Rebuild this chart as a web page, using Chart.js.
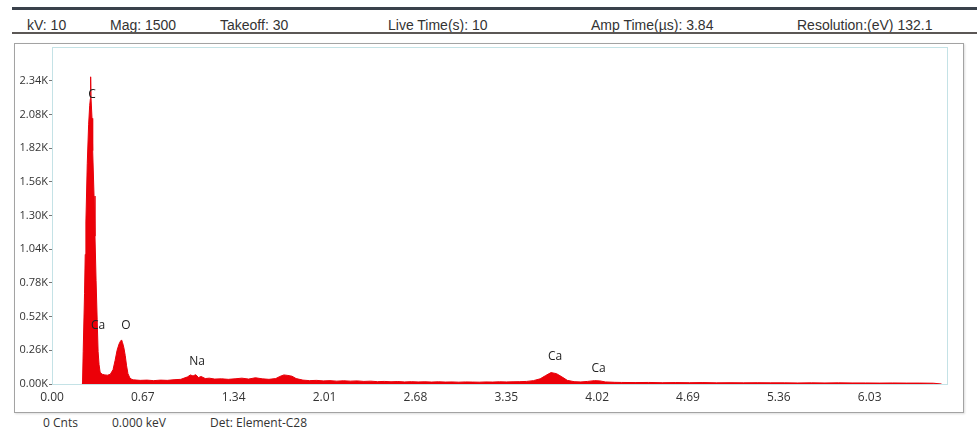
<!DOCTYPE html>
<html>
<head>
<meta charset="utf-8">
<script src="https://cdn.jsdelivr.net/npm/chart.js@4/dist/chart.umd.min.js"></script>
<style>
  body{margin:0;background:#fff;width:977px;height:437px;position:relative;overflow:hidden;font-family:"Liberation Sans",Arial,sans-serif;}
  .bar1{position:absolute;left:12px;right:0;top:7px;height:3px;background:#3a414b;}
  .bar2{position:absolute;left:12px;right:0;top:32px;height:2px;background:#5b5755;}
  .hd{position:absolute;top:17px;font-size:14px;color:#333;white-space:nowrap;}
  .box{position:absolute;left:14px;top:43px;width:948px;height:368px;border:1px solid #a3a3a3;box-shadow:1px 1px 2px #ddd;}
  canvas{position:absolute;left:15px;top:44px;}
  .ft{position:absolute;top:414px;font-family:"Open Sans",sans-serif;font-size:12px;color:#333;white-space:nowrap;}
</style>
</head>
<body>
<div class="bar1"></div>
<div class="hd" style="left:27px">kV: 10</div>
<div class="hd" style="left:110px">Mag: 1500</div>
<div class="hd" style="left:220px">Takeoff: 30</div>
<div class="hd" style="left:388px">Live Time(s): 10</div>
<div class="hd" style="left:591px">Amp Time(µs): 3.84</div>
<div class="hd" style="left:797px">Resolution:(eV) 132.1</div>
<div class="bar2"></div>
<div class="box"></div>
<canvas id="spec" width="947" height="367"></canvas>
<div class="ft" style="left:43px">0 Cnts</div>
<div class="ft" style="left:112px">0.000 keV</div>
<div class="ft" style="left:210px">Det: Element-C28</div>
<script>
// EDS spectrum, energy in keV, counts
const energies = [
  0.22,0.225,0.23,0.24,0.245,0.25,0.26,0.27,0.278,0.283,0.285,0.288,0.295,0.30,0.31,0.317,0.325,0.333,0.34,0.347,0.355,
  0.37,0.39,0.41,0.43,0.45,0.465,0.48,0.495,0.505,0.513,0.52,0.53,0.54,0.55,0.56,0.575,0.59,
  0.60,0.65,0.70,0.75,0.80,0.85,0.90,0.95,1.00,1.02,1.04,1.06,1.08,1.10,1.13,1.16,1.20,1.25,1.30,1.35,1.40,1.45,1.50,1.55,1.60,1.65,
  1.68,1.71,1.74,1.77,1.80,1.85,1.90,1.95,2.00,2.05,2.10,2.15,2.20,2.25,2.30,2.35,2.40,2.45,2.50,2.55,2.60,2.65,2.70,2.75,2.80,2.85,
  2.90,2.95,3.00,3.05,3.10,3.15,3.20,3.25,3.30,3.35,3.40,3.45,3.50,3.55,3.60,3.64,3.68,3.72,3.76,3.80,3.85,3.90,3.95,4.00,4.04,4.08,
  4.15,4.20,4.30,4.40,4.50,4.60,4.70,4.80,4.90,5.00,5.10,5.20,5.30,5.40,5.50,5.60,5.70,5.80,5.90,6.00,6.10,6.20,6.30,6.40,6.50,6.56
];
const counts = [
  0,0,250,700,1000,1250,1700,2000,2150,2200,2370,2200,2050,1800,1450,1140,800,500,250,150,90,
  75,70,68,75,110,180,260,310,330,340,320,280,220,140,80,45,35,
  32,28,30,26,30,28,33,36,55,70,62,72,50,58,42,45,38,40,36,40,45,38,48,40,36,42,
  58,70,66,60,42,30,26,28,24,26,22,25,22,24,20,22,18,20,17,19,16,18,16,17,15,17,
  15,16,14,16,15,14,16,15,17,16,17,18,20,26,40,65,88,80,55,28,18,16,20,26,24,16,
  13,12,11,12,10,11,10,11,9,10,9,10,9,9,8,9,8,9,8,8,7,8,7,7,6,0
];
const xTicks = [0,0.67,1.34,2.01,2.68,3.35,4.02,4.69,5.36,6.03];
const yTicks = [0,260,520,780,1040,1300,1560,1820,2080,2340];
// peak identification labels
const peakNames = ["C","Ca","O","Na","Ca","Ca"];
const peakEnergies = [0.295,0.34,0.545,1.07,3.71,4.03];
const peakLabelCounts = [2232,450,450,170,209,116];

const points = energies.map((e,i)=>({x:e,y:counts[i]}));

const plotFrame = {
  id:"plotFrame",
  beforeDatasetsDraw(chart){
    const {ctx,chartArea:a}=chart;
    ctx.save();
    ctx.strokeStyle="#c4e2e6"; ctx.lineWidth=1;
    ctx.strokeRect(a.left+0.5,a.top+0.5,a.right-a.left,a.bottom-a.top);
    ctx.restore();
  }
};
const peakLabels = {
  id:"peakLabels",
  afterDatasetsDraw(chart){
    const {ctx,scales:{x,y}}=chart;
    ctx.save();
    ctx.font="12px 'Open Sans', sans-serif";
    ctx.fillStyle="#222"; ctx.textAlign="center"; ctx.textBaseline="middle";
    peakNames.forEach((n,i)=>ctx.fillText(n,x.getPixelForValue(peakEnergies[i]),y.getPixelForValue(peakLabelCounts[i])));
    ctx.restore();
  }
};

new Chart(document.getElementById("spec"),{
  type:"line",
  data:{datasets:[{data:points,borderColor:"#e8000a",backgroundColor:"#ec0008",borderWidth:1,pointRadius:0,fill:"origin",tension:0}]},
  options:{
    responsive:false,animation:false,devicePixelRatio:1,
    layout:{padding:{left:0,top:3,right:15,bottom:0}},
    plugins:{legend:{display:false},tooltip:{enabled:false}},
    scales:{
      x:{type:"linear",min:0,max:6.6,
        afterBuildTicks:s=>{s.ticks=xTicks.map(v=>({value:v}));},
        afterFit:s=>{s.height=27;s.paddingLeft=0;s.paddingRight=0;},
        ticks:{padding:6,color:"#333",font:{family:"Open Sans",size:12},maxRotation:0,autoSkip:false,callback:v=>v.toFixed(2)},
        grid:{display:true,drawOnChartArea:false,drawTicks:false},
        border:{display:true,color:"#98bfdc",width:1}},
      y:{min:0,max:2600,
        afterBuildTicks:s=>{s.ticks=yTicks.map(v=>({value:v}));},
        afterFit:s=>{s.width=37;s.paddingTop=0;s.paddingBottom=0;},
        ticks:{padding:1,color:"#333",font:{family:"Open Sans",size:11},autoSkip:false,callback:v=>(v/1000).toFixed(2)+"K"},
        grid:{display:true,drawOnChartArea:false,drawTicks:true,tickLength:3,color:"#777"},
        border:{display:true,color:"#8c9eb2",width:1}}
    }
  },
  plugins:[plotFrame,peakLabels]
});
</script>
</body>
</html>
